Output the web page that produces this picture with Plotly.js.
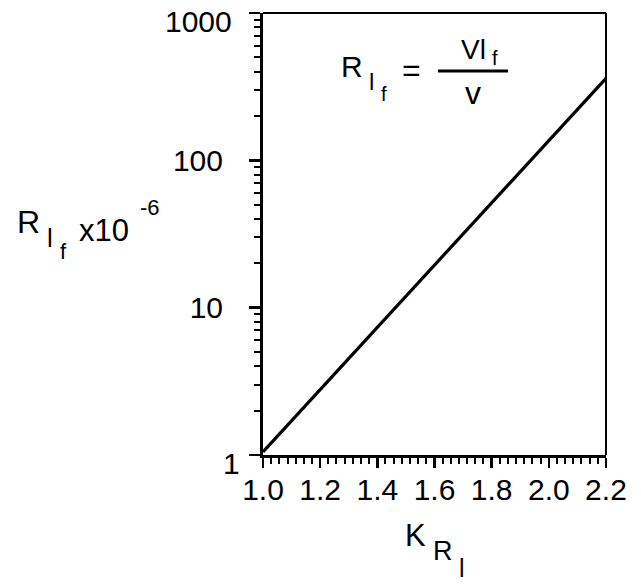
<!DOCTYPE html>
<html>
<head>
<meta charset="utf-8">
<script src="https://cdn.plot.ly/plotly-3.0.1.min.js"></script>
<style>
  html, body { margin: 0; padding: 0; background: #fff; }
  #chart { width: 641px; height: 584px; }
</style>
</head>
<body>
<div id="chart"></div>
<script>
// Friction Reynolds number (scaled by 1e-6) against the roughness coefficient
const kValues = [1.0, 2.2];
const rValues = [1.05, 360];

const xTickVals = [1.0, 1.2, 1.4, 1.6, 1.8, 2.0, 2.2];
const xTickText = ['1.0', '1.2', '1.4', '1.6', '1.8', '2.0', '2.2'];
const yTickVals = [1, 10, 100, 1000];
const yTickText = ['1', '10', '100', '1000'];

const FONT = '"Liberation Sans", Arial, sans-serif';
const W = 641, H = 584;
const M = { l: 263, r: 35, t: 13, b: 129 };

// pixel position -> paper coordinates of the plot area
const PW = W - M.l - M.r, PH = H - M.t - M.b;
const px = x => (x - M.l) / PW;
const py = y => (H - M.b - y) / PH;

function label(text, x, y, size, anchor) {
  return {
    text: text, xref: 'paper', yref: 'paper', x: px(x), y: py(y),
    xanchor: anchor || 'center', yanchor: 'middle', showarrow: false,
    font: { family: FONT, size: size, color: '#000' }
  };
}

// the end labels of the log axis sit just inside the page edge, so they are
// drawn as free text; the inner ones stay regular tick labels
const last = yTickText.length - 1;
const yAxisText = yTickText.map((t, i) => (i === 0 || i === last) ? '' : t);

const annotations = [
  label(yTickText[last], 234, 21, 30, 'right'),
  label(yTickText[0], 242, 464, 30, 'right'),
  // y-axis title: R_{l_f} x10^-6
  label('R', 29, 222, 32),
  label('l', 50, 238, 26),
  label('f', 63, 251, 22),
  label('x10', 104, 230, 31),
  label('-6', 150, 207, 22),
  // x-axis title: K_{R_l}
  label('K', 415, 535, 31),
  label('R', 443, 551, 27),
  label('l', 462, 568, 25),
  // formula: R_{l_f} = V l_f / v
  label('R', 352, 66, 30),
  label('l', 371, 81, 24),
  label('f', 384, 94, 20),
  label('=', 411, 70, 32),
  label('Vl', 473, 49, 28),
  label('f', 495, 58, 20),
  label('v', 473, 93, 32)
];

const shapes = [
  // top and right frame lines (thinner than the axis lines)
  { type: 'line', xref: 'paper', yref: 'paper', x0: 0, x1: 1, y0: 1, y1: 1,
    line: { color: '#000', width: 2 } },
  { type: 'line', xref: 'paper', yref: 'paper', x0: 1, x1: 1, y0: 0, y1: 1,
    line: { color: '#000', width: 2 } },
  // fraction bar of the formula
  { type: 'line', xref: 'paper', yref: 'paper', x0: px(438), x1: px(508), y0: py(71), y1: py(71),
    line: { color: '#000', width: 3 } }
];

const trace = {
  x: kValues, y: rValues, type: 'scatter', mode: 'lines',
  line: { color: '#000', width: 3.2 }, hoverinfo: 'skip', cliponaxis: false
};

const layout = {
  width: W, height: H,
  margin: M,
  paper_bgcolor: '#fff', plot_bgcolor: '#fff',
  showlegend: false,
  font: { family: FONT, color: '#000' },
  xaxis: {
    range: [1.0, 2.2001], tickvals: xTickVals, ticktext: xTickText,
    showgrid: false, zeroline: false,
    showline: true, linecolor: '#000', linewidth: 3,
    ticks: 'outside', ticklen: 10, tickwidth: 2.5, tickcolor: '#000',
    ticklabelstandoff: -4, ticklabeloverflow: 'allow',
    tickfont: { family: FONT, size: 30, color: '#000' },
    minor: { ticks: 'outside', ticklen: 6, tickwidth: 2, tickcolor: '#000', dtick: 0.2 / 7, tick0: 1.0, showgrid: false }
  },
  yaxis: {
    type: 'log', range: [-0.0002, 3.0002], tickvals: yTickVals, ticktext: yAxisText,
    showgrid: false, zeroline: false,
    showline: true, linecolor: '#000', linewidth: 3,
    ticks: 'outside', ticklen: 11, tickwidth: 2.5, tickcolor: '#000',
    ticklabelstandoff: 20, ticklabeloverflow: 'allow',
    tickfont: { family: FONT, size: 30, color: '#000' },
    minor: { ticks: 'outside', ticklen: 6, tickwidth: 2, tickcolor: '#000', dtick: 'D1', showgrid: false }
  },
  annotations: annotations,
  shapes: shapes
};

Plotly.newPlot('chart', [trace], layout, { staticPlot: true, displayModeBar: false });
</script>
</body>
</html>
